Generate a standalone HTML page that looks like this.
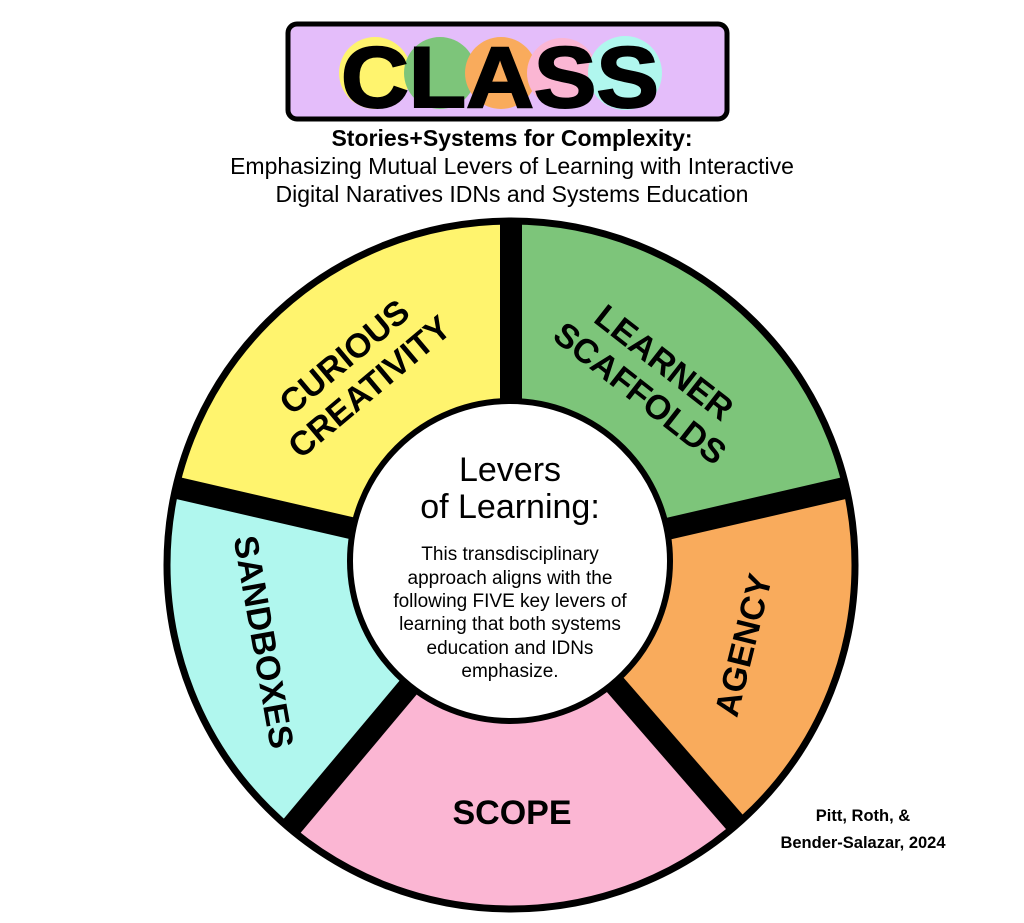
<!DOCTYPE html>
<html><head><meta charset="utf-8"><style>
html,body{margin:0;padding:0;background:#fff;}
body{width:1024px;height:923px;position:relative;overflow:hidden;font-family:"Liberation Sans",sans-serif;}
</style></head><body>
<svg width="1024" height="923" viewBox="0 0 1024 923" xmlns="http://www.w3.org/2000/svg" style="position:absolute;left:0;top:0">
<rect x="288" y="24" width="439" height="95" rx="9" fill="#e4bdfa" stroke="#000" stroke-width="5"/>
<circle cx="375" cy="73" r="36" fill="#fff46e"/>
<circle cx="440" cy="73" r="36" fill="#7dc57a"/>
<circle cx="501" cy="73" r="36" fill="#f9ab5c"/>
<circle cx="562" cy="73" r="35" fill="#fbb6d3"/>
<circle cx="625" cy="73" r="37" fill="#b0f7ee"/>
<text x="500" y="107" text-anchor="middle" font-family="Liberation Sans, sans-serif" font-weight="bold" font-size="86" fill="#000" stroke="#000" stroke-width="2" textLength="318" lengthAdjust="spacingAndGlyphs">CLASS</text>
<text x="512" y="146" text-anchor="middle" font-weight="bold" font-size="23" fill="#000">Stories+Systems for Complexity:</text>
<text x="512" y="174" text-anchor="middle" font-size="23" fill="#000">Emphasizing Mutual Levers of Learning with Interactive</text>
<text x="512" y="202" text-anchor="middle" font-size="23" fill="#000">Digital Naratives IDNs and Systems Education</text>

<path d="M511 565 L511 220 A345 345 0 0 1 847.2 487.4 Z" fill="#7dc57a"/>
<path d="M511 565 L847.2 487.4 A345 345 0 0 1 737.4 825.4 Z" fill="#f9ab5c"/>
<path d="M511 565 L737.4 825.4 A345 345 0 0 1 289.2 829.3 Z" fill="#fbb6d3"/>
<path d="M511 565 L289.2 829.3 A345 345 0 0 1 174.8 487.4 Z" fill="#b0f7ee"/>
<path d="M511 565 L174.8 487.4 A345 345 0 0 1 511 220 Z" fill="#fff46e"/>
<g stroke="#000" stroke-width="22">
<line x1="511" y1="565" x2="511" y2="220"/>
<line x1="511" y1="565" x2="847.2" y2="487.4"/>
<line x1="511" y1="565" x2="737.4" y2="825.4"/>
<line x1="511" y1="565" x2="289.2" y2="829.3"/>
<line x1="511" y1="565" x2="174.8" y2="487.4"/>
</g>
<circle cx="511" cy="565" r="344" fill="none" stroke="#000" stroke-width="7"/>
<circle cx="510" cy="561" r="160" fill="#fff" stroke="#000" stroke-width="6"/>

<g font-weight="bold" font-size="34" fill="#000" text-anchor="middle">
<g transform="translate(357,372) rotate(-40)"><text x="0" y="-8">CURIOUS</text><text x="0" y="31">CREATIVITY</text></g>
<g transform="translate(652,378) rotate(38)"><text x="0" y="-8">LEARNER</text><text x="0" y="31">SCAFFOLDS</text></g>
<g transform="translate(743,645) rotate(-76)"><text x="0" y="12">AGENCY</text></g>
<g transform="translate(264,642) rotate(80)"><text x="0" y="12">SANDBOXES</text></g>
<text x="512" y="824">SCOPE</text>
</g>

<g text-anchor="middle" fill="#000">
<text x="510" y="481" font-size="34">Levers</text>
<text x="510" y="518" font-size="34">of Learning:</text>
<g font-size="19">
<text x="510" y="560">This transdisciplinary</text>
<text x="510" y="584">approach aligns with the</text>
<text x="510" y="607">following FIVE key levers of</text>
<text x="510" y="630">learning that both systems</text>
<text x="510" y="654">education and IDNs</text>
<text x="510" y="677">emphasize.</text>
</g>
<g font-size="16.5" font-weight="bold">
<text x="863" y="821">Pitt, Roth, &amp;</text>
<text x="863" y="848">Bender-Salazar, 2024</text>
</g>
</g>
</svg>
</body></html>
